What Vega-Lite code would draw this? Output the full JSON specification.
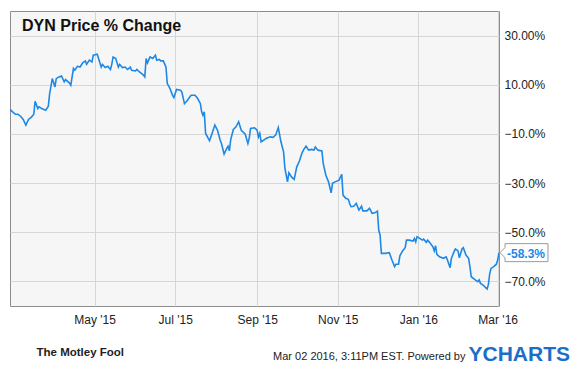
{
  "$schema": "https://vega.github.io/schema/vega-lite/v6.json",
  "autosize": "none",
  "width": 489,
  "height": 295,
  "padding": {"left": 10, "top": 11, "right": 81, "bottom": 65},
  "background": "white",
  "title": {
    "text": "DYN Price % Change",
    "anchor": "start",
    "frame": "group",
    "offset": -23,
    "dx": 12,
    "font": "Liberation Sans",
    "fontSize": 16,
    "fontWeight": "bold",
    "color": "#111"
  },
  "config": {
    "view": {"stroke": "#8c8c8c", "strokeWidth": 1, "fill": "#f6f6f6"},
    "font": "Liberation Sans"
  },
  "encoding": {
    "x": {
      "field": "date",
      "type": "temporal",
      "scale": {
        "type": "utc",
        "domain": [
          {"year": 2015, "month": "feb", "date": 26, "utc": true},
          {"year": 2016, "month": "mar", "date": 2, "utc": true}
        ]
      },
      "axis": {
        "values": [
          {"year": 2015, "month": "may", "date": 1, "utc": true},
          {"year": 2015, "month": "jul", "date": 1, "utc": true},
          {"year": 2015, "month": "sep", "date": 1, "utc": true},
          {"year": 2015, "month": "nov", "date": 1, "utc": true},
          {"year": 2016, "month": "jan", "date": 1, "utc": true},
          {"year": 2016, "month": "mar", "date": 1, "utc": true}
        ],
        "format": "%b '%y",
        "grid": true,
        "gridColor": "#d6d6d6",
        "gridWidth": 1,
        "ticks": false,
        "domain": false,
        "labelPadding": 8,
        "labelFontSize": 12,
        "labelColor": "#222",
        "labelFont": "Liberation Sans",
        "title": "Mar 02 2016, 3:11PM EST.  Powered by",
        "titleFont": "Liberation Sans",
        "titleFontSize": 11,
        "titleFontWeight": "normal",
        "titleColor": "#222",
        "titleAngle": 0,
        "titleAlign": "right",
        "titleBaseline": "alphabetic",
        "titleX": 455,
        "titleY": 53
      }
    }
  },
  "layer": [
    {
      "data": {
        "values": [
          {"date": "2015-02-26", "pct": 0.0},
          {"date": "2015-02-28", "pct": -1.0},
          {"date": "2015-03-02", "pct": -2.0},
          {"date": "2015-03-04", "pct": -2.0},
          {"date": "2015-03-06", "pct": -2.8},
          {"date": "2015-03-08", "pct": -4.1},
          {"date": "2015-03-10", "pct": -6.4},
          {"date": "2015-03-12", "pct": -4.1},
          {"date": "2015-03-14", "pct": -3.3},
          {"date": "2015-03-16", "pct": -2.0},
          {"date": "2015-03-17", "pct": 3.3},
          {"date": "2015-03-19", "pct": 0.3},
          {"date": "2015-03-20", "pct": 1.0},
          {"date": "2015-03-22", "pct": 0.3},
          {"date": "2015-03-25", "pct": -0.4},
          {"date": "2015-03-27", "pct": 1.3},
          {"date": "2015-03-28", "pct": 6.4},
          {"date": "2015-03-30", "pct": 12.5},
          {"date": "2015-04-01", "pct": 9.1},
          {"date": "2015-04-02", "pct": 12.5},
          {"date": "2015-04-04", "pct": 13.2},
          {"date": "2015-04-06", "pct": 13.6},
          {"date": "2015-04-08", "pct": 11.2},
          {"date": "2015-04-09", "pct": 12.1},
          {"date": "2015-04-12", "pct": 10.7},
          {"date": "2015-04-13", "pct": 9.8},
          {"date": "2015-04-15", "pct": 16.6},
          {"date": "2015-04-16", "pct": 15.9},
          {"date": "2015-04-18", "pct": 17.5},
          {"date": "2015-04-20", "pct": 17.2},
          {"date": "2015-04-22", "pct": 18.9},
          {"date": "2015-04-24", "pct": 19.7},
          {"date": "2015-04-25", "pct": 18.3},
          {"date": "2015-04-27", "pct": 20.0},
          {"date": "2015-04-29", "pct": 19.3},
          {"date": "2015-04-30", "pct": 22.0},
          {"date": "2015-05-03", "pct": 22.4},
          {"date": "2015-05-06", "pct": 17.2},
          {"date": "2015-05-07", "pct": 18.3},
          {"date": "2015-05-09", "pct": 17.0},
          {"date": "2015-05-11", "pct": 17.5},
          {"date": "2015-05-13", "pct": 16.2},
          {"date": "2015-05-14", "pct": 18.3},
          {"date": "2015-05-15", "pct": 21.3},
          {"date": "2015-05-17", "pct": 20.7},
          {"date": "2015-05-19", "pct": 17.2},
          {"date": "2015-05-20", "pct": 18.3},
          {"date": "2015-05-22", "pct": 17.0},
          {"date": "2015-05-24", "pct": 17.2},
          {"date": "2015-05-26", "pct": 16.2},
          {"date": "2015-05-28", "pct": 17.2},
          {"date": "2015-05-29", "pct": 15.9},
          {"date": "2015-06-01", "pct": 15.6},
          {"date": "2015-06-02", "pct": 16.2},
          {"date": "2015-06-04", "pct": 15.2},
          {"date": "2015-06-07", "pct": 13.9},
          {"date": "2015-06-08", "pct": 13.2},
          {"date": "2015-06-09", "pct": 20.7},
          {"date": "2015-06-10", "pct": 18.9},
          {"date": "2015-06-12", "pct": 21.3},
          {"date": "2015-06-14", "pct": 20.7},
          {"date": "2015-06-16", "pct": 22.0},
          {"date": "2015-06-17", "pct": 20.0},
          {"date": "2015-06-19", "pct": 20.3},
          {"date": "2015-06-20", "pct": 19.7},
          {"date": "2015-06-22", "pct": 19.7},
          {"date": "2015-06-24", "pct": 17.2},
          {"date": "2015-06-25", "pct": 10.5},
          {"date": "2015-06-27", "pct": 8.5},
          {"date": "2015-06-29", "pct": 5.7},
          {"date": "2015-06-30", "pct": 4.8},
          {"date": "2015-07-02", "pct": 8.1},
          {"date": "2015-07-05", "pct": 7.8},
          {"date": "2015-07-06", "pct": 7.1},
          {"date": "2015-07-08", "pct": 2.3},
          {"date": "2015-07-10", "pct": 3.5},
          {"date": "2015-07-13", "pct": 5.7},
          {"date": "2015-07-16", "pct": 5.7},
          {"date": "2015-07-18", "pct": 4.4},
          {"date": "2015-07-20", "pct": 2.4},
          {"date": "2015-07-21", "pct": -1.0},
          {"date": "2015-07-22", "pct": -2.4},
          {"date": "2015-07-23", "pct": -1.0},
          {"date": "2015-07-24", "pct": -9.8},
          {"date": "2015-07-27", "pct": -12.8},
          {"date": "2015-07-29", "pct": -9.6},
          {"date": "2015-07-31", "pct": -6.4},
          {"date": "2015-08-02", "pct": -8.5},
          {"date": "2015-08-04", "pct": -12.5},
          {"date": "2015-08-05", "pct": -13.9},
          {"date": "2015-08-07", "pct": -18.2},
          {"date": "2015-08-09", "pct": -15.9},
          {"date": "2015-08-10", "pct": -15.0},
          {"date": "2015-08-11", "pct": -16.9},
          {"date": "2015-08-12", "pct": -12.3},
          {"date": "2015-08-14", "pct": -8.2},
          {"date": "2015-08-16", "pct": -7.1},
          {"date": "2015-08-18", "pct": -5.1},
          {"date": "2015-08-20", "pct": -8.5},
          {"date": "2015-08-23", "pct": -10.1},
          {"date": "2015-08-25", "pct": -13.9},
          {"date": "2015-08-26", "pct": -11.8},
          {"date": "2015-08-27", "pct": -7.8},
          {"date": "2015-08-30", "pct": -7.5},
          {"date": "2015-09-01", "pct": -8.5},
          {"date": "2015-09-02", "pct": -11.2},
          {"date": "2015-09-03", "pct": -9.8},
          {"date": "2015-09-04", "pct": -13.2},
          {"date": "2015-09-06", "pct": -12.5},
          {"date": "2015-09-08", "pct": -11.8},
          {"date": "2015-09-11", "pct": -11.2},
          {"date": "2015-09-13", "pct": -11.4},
          {"date": "2015-09-15", "pct": -10.5},
          {"date": "2015-09-17", "pct": -7.4},
          {"date": "2015-09-19", "pct": -13.2},
          {"date": "2015-09-21", "pct": -17.3},
          {"date": "2015-09-22", "pct": -24.0},
          {"date": "2015-09-24", "pct": -29.5},
          {"date": "2015-09-25", "pct": -25.8},
          {"date": "2015-09-27", "pct": -27.5},
          {"date": "2015-09-29", "pct": -28.5},
          {"date": "2015-10-01", "pct": -23.4},
          {"date": "2015-10-03", "pct": -21.0},
          {"date": "2015-10-05", "pct": -17.7},
          {"date": "2015-10-06", "pct": -16.6},
          {"date": "2015-10-08", "pct": -15.0},
          {"date": "2015-10-10", "pct": -16.6},
          {"date": "2015-10-12", "pct": -16.3},
          {"date": "2015-10-14", "pct": -16.6},
          {"date": "2015-10-15", "pct": -15.3},
          {"date": "2015-10-17", "pct": -16.6},
          {"date": "2015-10-20", "pct": -16.9},
          {"date": "2015-10-21", "pct": -22.0},
          {"date": "2015-10-23", "pct": -26.8},
          {"date": "2015-10-25", "pct": -29.5},
          {"date": "2015-10-27", "pct": -34.0},
          {"date": "2015-10-28", "pct": -30.1},
          {"date": "2015-10-30", "pct": -29.5},
          {"date": "2015-11-02", "pct": -28.8},
          {"date": "2015-11-04", "pct": -26.4},
          {"date": "2015-11-05", "pct": -34.9},
          {"date": "2015-11-07", "pct": -36.2},
          {"date": "2015-11-09", "pct": -36.6},
          {"date": "2015-11-10", "pct": -38.3},
          {"date": "2015-11-11", "pct": -39.6},
          {"date": "2015-11-13", "pct": -39.4},
          {"date": "2015-11-15", "pct": -38.3},
          {"date": "2015-11-17", "pct": -41.0},
          {"date": "2015-11-19", "pct": -39.4},
          {"date": "2015-11-20", "pct": -41.3},
          {"date": "2015-11-23", "pct": -41.3},
          {"date": "2015-11-25", "pct": -40.3},
          {"date": "2015-11-27", "pct": -42.3},
          {"date": "2015-11-29", "pct": -42.1},
          {"date": "2015-12-01", "pct": -41.4},
          {"date": "2015-12-02", "pct": -49.1},
          {"date": "2015-12-03", "pct": -51.1},
          {"date": "2015-12-04", "pct": -58.6},
          {"date": "2015-12-07", "pct": -58.6},
          {"date": "2015-12-10", "pct": -58.3},
          {"date": "2015-12-12", "pct": -61.3},
          {"date": "2015-12-14", "pct": -64.0},
          {"date": "2015-12-15", "pct": -63.0},
          {"date": "2015-12-17", "pct": -63.0},
          {"date": "2015-12-18", "pct": -59.6},
          {"date": "2015-12-20", "pct": -57.6},
          {"date": "2015-12-22", "pct": -56.3},
          {"date": "2015-12-23", "pct": -53.2},
          {"date": "2015-12-25", "pct": -53.2},
          {"date": "2015-12-28", "pct": -53.6},
          {"date": "2015-12-29", "pct": -52.5},
          {"date": "2015-12-30", "pct": -53.9},
          {"date": "2015-12-31", "pct": -51.8},
          {"date": "2016-01-02", "pct": -52.5},
          {"date": "2016-01-04", "pct": -53.2},
          {"date": "2016-01-05", "pct": -52.8},
          {"date": "2016-01-07", "pct": -54.1},
          {"date": "2016-01-08", "pct": -53.2},
          {"date": "2016-01-10", "pct": -54.5},
          {"date": "2016-01-12", "pct": -55.9},
          {"date": "2016-01-13", "pct": -57.6},
          {"date": "2016-01-14", "pct": -55.5},
          {"date": "2016-01-15", "pct": -59.0},
          {"date": "2016-01-17", "pct": -60.0},
          {"date": "2016-01-20", "pct": -60.6},
          {"date": "2016-01-22", "pct": -60.0},
          {"date": "2016-01-23", "pct": -61.3},
          {"date": "2016-01-25", "pct": -64.4},
          {"date": "2016-01-26", "pct": -60.6},
          {"date": "2016-01-28", "pct": -57.9},
          {"date": "2016-01-29", "pct": -56.8},
          {"date": "2016-01-31", "pct": -57.6},
          {"date": "2016-02-01", "pct": -60.4},
          {"date": "2016-02-03", "pct": -56.8},
          {"date": "2016-02-04", "pct": -56.3},
          {"date": "2016-02-06", "pct": -59.3},
          {"date": "2016-02-08", "pct": -60.6},
          {"date": "2016-02-09", "pct": -64.0},
          {"date": "2016-02-10", "pct": -68.1},
          {"date": "2016-02-13", "pct": -69.4},
          {"date": "2016-02-15", "pct": -70.1},
          {"date": "2016-02-16", "pct": -69.4},
          {"date": "2016-02-17", "pct": -70.8},
          {"date": "2016-02-19", "pct": -71.5},
          {"date": "2016-02-22", "pct": -73.1},
          {"date": "2016-02-23", "pct": -71.2},
          {"date": "2016-02-24", "pct": -66.7},
          {"date": "2016-02-25", "pct": -64.7},
          {"date": "2016-02-27", "pct": -64.0},
          {"date": "2016-02-29", "pct": -63.0},
          {"date": "2016-03-01", "pct": -61.3},
          {"date": "2016-03-02", "pct": -58.3}
        ]
      },
      "mark": {"type": "line", "color": "#1e88e5", "strokeWidth": 1.6, "clip": true},
      "encoding": {
        "y": {
          "field": "pct",
          "type": "quantitative",
          "scale": {"domain": [-80, 40], "nice": false, "zero": false},
          "axis": {
            "orient": "right",
            "values": [-70, -50, -30, -10, 10, 30],
            "labelExpr": "datum.value > 0 ? format(datum.value, '.2f') + '%' : format(datum.value, '.1f') + '%'",
            "grid": true,
            "gridColor": "#d6d6d6",
            "gridWidth": 1,
            "ticks": false,
            "domain": false,
            "labelPadding": 5,
            "labelFontSize": 12,
            "labelColor": "#222",
            "labelFont": "Liberation Sans",
            "title": "YCHARTS",
            "titleFont": "Liberation Sans",
            "titleFontSize": 21,
            "titleFontWeight": "bold",
            "titleColor": "#1b6fc8",
            "titleAngle": 0,
            "titleAlign": "left",
            "titleBaseline": "alphabetic",
            "titleX": -31,
            "titleY": 349
          }
        }
      }
    },
    {
      "data": {"values": [{"date": "2016-03-02", "pct": -58.3, "label": "-58.3%"}]},
      "encoding": {
        "y": {
          "field": "pct",
          "type": "quantitative",
          "scale": {"domain": [-80, 40], "nice": false, "zero": false},
          "axis": {
            "orient": "left",
            "labels": false,
            "ticks": false,
            "domain": false,
            "grid": false,
            "title": "The Motley Fool",
            "titleFont": "Liberation Sans",
            "titleFontSize": 11.5,
            "titleFontWeight": "bold",
            "titleColor": "#222",
            "titleAngle": 0,
            "titleAlign": "left",
            "titleBaseline": "alphabetic",
            "titleX": 26,
            "titleY": 344
          }
        }
      },
      "layer": [
        {
          "mark": {
            "type": "point",
            "shape": "M1,0 L6,-5 L6,-9 L49,-9 L49,9 L6,9 L6,5 Z",
            "size": 4,
            "filled": true,
            "fill": "white",
            "stroke": "#9a9a9a",
            "strokeWidth": 1,
            "opacity": 1
          }
        },
        {
          "mark": {
            "type": "text",
            "align": "left",
            "baseline": "middle",
            "dx": 8,
            "dy": 1,
            "font": "Liberation Sans",
            "fontSize": 12,
            "fontWeight": "bold",
            "color": "#1e88e5"
          },
          "encoding": {"text": {"field": "label"}}
        }
      ]
    }
  ],
  "resolve": {"scale": {"y": "independent"}}
}
